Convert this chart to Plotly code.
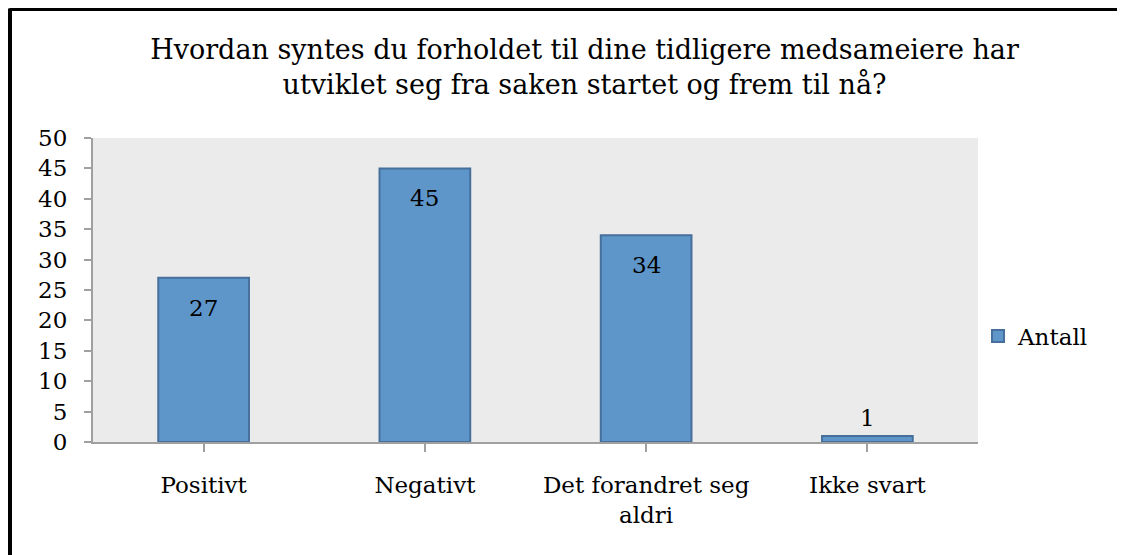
import plotly.graph_objects as go

categories = ["Positivt", "Negativt", "Det forandret seg<br>aldri", "Ikke svart"]
values = [27, 45, 34, 1]
series_name = "Antall"
y_ticks = [0, 5, 10, 15, 20, 25, 30, 35, 40, 45, 50]
title_text = "Hvordan syntes du forholdet til dine tidligere medsameiere har<br>utviklet seg fra saken startet og frem til nå?"

# the page body has an 8px margin, so figure coordinates are screen coordinates - 8
OFF = 8
W, H = 1125 - OFF, 555 - OFF
L = 93 - OFF
T = 138 - OFF
R = W - (978 - OFF)
B = H - (442 - OFF)
pw, ph = W - L - R, H - T - B

def px_x(p):
    return (p - OFF - L) / pw

def px_y(p):
    return (H - B - (p - OFF)) / ph

FONT = "DejaVu Serif"

fig = go.Figure()
fig.add_trace(go.Bar(
    x=list(range(len(categories))),
    y=values,
    name=series_name,
    marker=dict(color="#5f96c9", line=dict(color="#466f9c", width=2)),
    showlegend=True,
))

annotations = []
for i, v in enumerate(values):
    inside = v > 5
    annotations.append(dict(
        x=i, y=v, xref="x", yref="y", text=str(v), showarrow=False,
        yanchor="top" if inside else "bottom",
        yshift=-15 if inside else 3,
        font=dict(family=FONT, size=23, color="#000000"),
    ))

fig.update_layout(
    width=W, height=H,
    margin=dict(l=L, r=R, t=T, b=B),
    paper_bgcolor="#ffffff",
    plot_bgcolor="#ebebeb",
    bargap=0.59,
    font=dict(family=FONT, size=23, color="#000000"),
    title=dict(
        text=title_text,
        x=(584.5 - OFF) / W, xanchor="center",
        y=1 - 51 / H, yanchor="top",
        yref="container", xref="container",
        font=dict(family=FONT, size=27, color="#000000"),
    ),
    xaxis=dict(
        range=[-0.5, len(categories) - 0.5],
        tickvals=list(range(len(categories))),
        ticktext=categories,
        tickson="boundaries",
        ticks="outside", ticklen=8, tickwidth=2, tickcolor="#a0a0a0",
        showline=True, linecolor="#a0a0a0", linewidth=2,
        showgrid=False, zeroline=False,
        ticklabelstandoff=13,
        tickfont=dict(family=FONT, size=23, color="#000000"),
    ),
    yaxis=dict(
        range=[0, 50],
        tickvals=y_ticks,
        ticks="outside", ticklen=7, tickwidth=2, tickcolor="#a0a0a0",
        showline=True, linecolor="#a0a0a0", linewidth=2,
        showgrid=False, zeroline=False,
        ticklabelstandoff=12,
        tickfont=dict(family=FONT, size=23, color="#000000"),
    ),
    legend=dict(
        x=px_x(978), y=px_y(336), xanchor="left", yanchor="middle",
        bgcolor="rgba(0,0,0,0)",
        font=dict(family=FONT, size=23, color="#000000"),
        itemwidth=30,
    ),
    annotations=annotations,
    shapes=[
        dict(type="line", xref="paper", yref="paper",
             x0=px_x(9.5), x1=px_x(1140), y0=px_y(8.5), y1=px_y(8.5),
             line=dict(color="#000000", width=5)),
        dict(type="line", xref="paper", yref="paper",
             x0=px_x(9.5), x1=px_x(9.5), y0=px_y(8.5), y1=px_y(580),
             line=dict(color="#000000", width=5)),
    ],
)

fig.write_html("out.html")
